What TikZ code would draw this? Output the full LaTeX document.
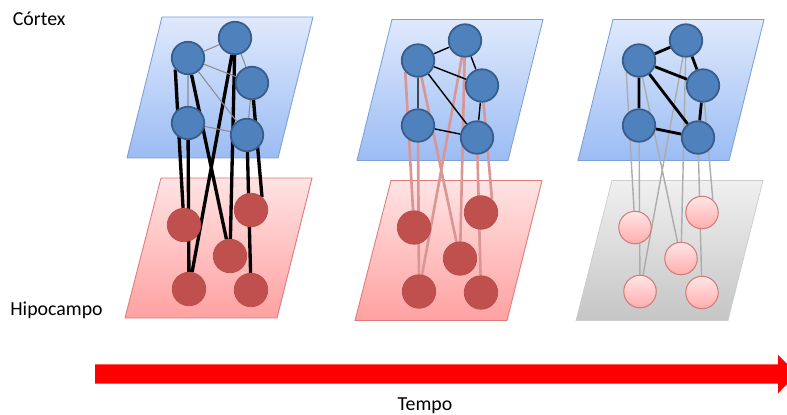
\documentclass[tikz,border=0pt]{standalone}
\usepackage{fontspec}
\setmainfont{Carlito}
\usepackage{tikz}
\usetikzlibrary{positioning, calc}

\definecolor{cortexblue}{HTML}{4F81BD}
\definecolor{cortexrim}{HTML}{385D8A}
\definecolor{hippored}{HTML}{C0504D}
\definecolor{fadelink}{HTML}{D99694}
\definecolor{bluetop}{HTML}{DFE9FC}
\definecolor{bluebottom}{HTML}{9BBCF4}
\definecolor{bluerim}{HTML}{7BA0DA}
\definecolor{redtop}{HTML}{FFE3E3}
\definecolor{redbottom}{HTML}{FFA1A1}
\definecolor{redrim}{HTML}{E07B7B}

\pgfdeclarelayer{planes}
\pgfdeclarelayer{links}
\pgfsetlayers{planes,links,main}

\tikzset{
  cortexnode/.style={circle, minimum size=0.65cm, inner sep=0pt, fill=cortexblue, draw=cortexrim, line width=1pt},
  hipponode/.style={circle, minimum size=0.67cm, inner sep=0pt, fill=hippored, draw=hippored!95!black, line width=0.4pt},
  fadednode/.style={circle, minimum size=0.65cm, inner sep=0pt, top color=red!10, bottom color=red!32, draw=hippored!75, line width=0.6pt},
  cortexplane/.style={draw=bluerim, line width=0.5pt, top color=bluetop, bottom color=bluebottom},
  hippoplane/.style={draw=redrim, line width=0.5pt, top color=redtop, bottom color=redbottom},
  greyplane/.style={draw=gray!40, line width=0.4pt, top color=gray!12, bottom color=gray!45},
  weakcortical/.style={draw=gray!90, line width=0.6pt},
  midcortical/.style={draw=black, line width=0.8pt},
  strongcortical/.style={draw=black, line width=1.6pt},
  stronglink/.style={draw=black, line width=1.9pt},
  fadinglink/.style={draw=fadelink, line width=1.5pt},
  weaklink/.style={draw=gray!65, line width=0.8pt},
  label/.style={font=\fontsize{11.3}{13}\selectfont, inner sep=0pt}
}

% #1 prefix, #2 shift, #3 lower plane, #4 hippocampus node, #5 cortical links, #6 cortex-hippocampus links
\newcommand{\drawpanel}[6]{%
\begin{scope}[shift={#2}]
  \node[cortexnode] (#1A) at (188,58) {};
  \node[cortexnode] (#1B) at (235,38) {};
  \node[cortexnode] (#1C) at (252,83) {};
  \node[cortexnode] (#1D) at (188,123) {};
  \node[cortexnode] (#1E) at (247,135) {};
  \node[#4] (#1a) at (184,225) {};
  \node[#4] (#1b) at (251,210) {};
  \node[#4] (#1c) at (230,256) {};
  \node[#4] (#1d) at (189,289) {};
  \node[#4] (#1e) at (251,290) {};
  \begin{pgfonlayer}{planes}
    \draw[cortexplane] (162,17) -- (313,17) -- (278,158) -- (127,158) -- cycle;
    \draw[#3] (161,178) -- (312,178) -- (277,318) -- (125,318) -- cycle;
  \end{pgfonlayer}
  \begin{pgfonlayer}{links}
    \draw[#6] (#1A.222) -- (#1a) (#1D) -- (#1d) (#1A) -- (#1c) (#1B) -- (#1d)
      (#1B) -- (#1c) (#1C) -- (#1b.50) (#1E) -- (#1e);
    \draw[#5] (#1A) -- (#1B) (#1A) -- (#1C) (#1A) -- (#1E) (#1A) -- (#1D)
      (#1B) -- (#1C) (#1C) -- (#1E) (#1D) -- (#1E);
  \end{pgfonlayer}
\end{scope}}

\begin{document}
\begin{tikzpicture}[x=0.02cm, y=-0.02cm]
\useasboundingbox (0,0) rectangle (787,415);

\drawpanel{p}{(0,0)}{hippoplane}{hipponode}{weakcortical}{stronglink}
\drawpanel{q}{(230,2.5)}{hippoplane}{hipponode}{midcortical}{fadinglink}
\drawpanel{r}{(451,2.5)}{greyplane}{fadednode}{strongcortical}{weaklink}

% time arrow
\fill[red] (95,364.3) -- (778,364.3) -- (778,355) -- (797,374) -- (778,393.3)
  -- (778,383.5) -- (95,383.5) -- cycle;

\node[label, anchor=base west] (cortex) at (12.5,26) {Córtex};
\node[label, anchor=base west] (hippo) at (10,315) {Hipocampo};
\node[label, anchor=base] (time) at (425,410.5) {Tempo};
\end{tikzpicture}
\end{document}
